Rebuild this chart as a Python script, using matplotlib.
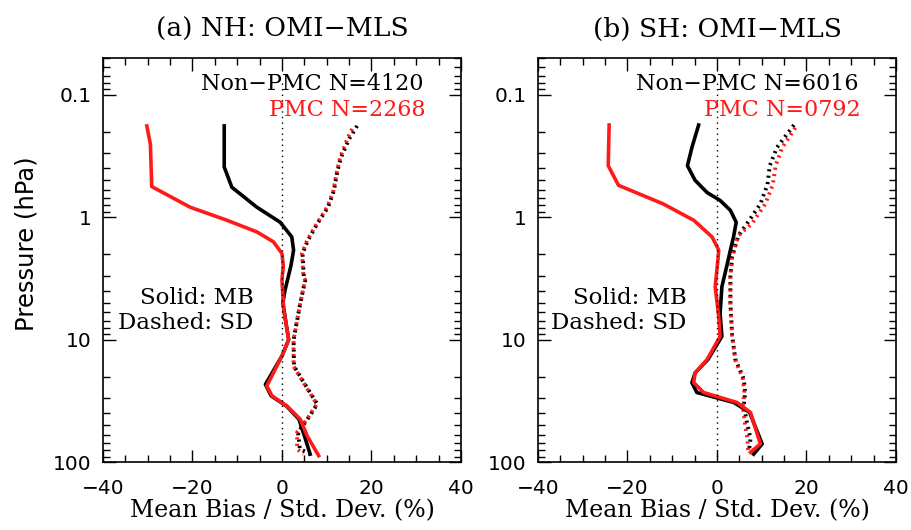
import numpy as np
import matplotlib
matplotlib.use('Agg')
import matplotlib.pyplot as plt
from matplotlib.ticker import FixedLocator, LogLocator, NullFormatter, MultipleLocator

# Livelli di pressione (hPa) e valori
# (a) NH
nh_mb_pmc_p = [0.18, 0.254, 0.563, 0.83, 1.06, 1.32, 1.59, 1.98, 2.5, 3.26, 5.7, 10.0, 13.6, 23.9, 28.8, 34.8, 44.6, 60.7, 88.5]
nh_mb_pmc_x = [-30.2, -29.4, -29.1, -20.5, -12.3, -5.6, -1.9, 0.0, 0.3, 0.0, 0.4, 1.5, 0.0, -3.4, -2.2, 1.1, 4.1, 5.6, 8.2]

nh_mb_non_p = [0.18, 0.39, 0.57, 0.83, 1.1, 1.45, 1.86, 2.5, 3.93, 5.0, 10.0, 13.6, 23.2, 28.8, 34.8, 44.6, 60.7, 86.0]
nh_mb_non_x = [-12.9, -12.9, -11.2, -5.6, -0.4, 2.2, 2.6, 2.0, 0.7, 0.2, 1.5, 0.0, -3.7, -2.4, 1.0, 3.8, 5.0, 6.3]

nh_sd_pmc_p = [0.18, 0.23, 0.326, 0.42, 0.61, 0.83, 1.13, 1.55, 1.98, 3.06, 3.26, 5.04, 10.0, 16.5, 22.4, 33.6, 44.6, 57.0, 78.0, 86.0]
nh_sd_pmc_x = [16.0, 14.6, 13.0, 12.3, 11.5, 10.1, 7.8, 5.6, 4.5, 4.8, 5.2, 4.1, 2.6, 2.6, 4.8, 7.8, 5.6, 3.4, 3.4, 4.8]

nh_sd_non_p = [0.18, 0.23, 0.326, 0.42, 0.61, 0.83, 1.13, 1.55, 1.98, 3.06, 3.26, 5.04, 10.0, 16.5, 22.4, 33.6, 44.6, 57.0, 78.0, 86.0]
nh_sd_non_x = [16.8, 15.0, 13.2, 12.4, 11.6, 10.3, 7.9, 5.8, 4.6, 4.9, 5.2, 4.1, 2.6, 2.7, 4.9, 7.9, 5.7, 3.6, 4.0, 6.3]

# (b) SH
sh_mb_pmc_p = [0.177, 0.38, 0.55, 0.78, 1.06, 1.45, 1.86, 2.25, 3.7, 6.5, 9.4, 14.5, 18.7, 22.4, 27.0, 32.6, 39.3, 71.0, 83.0]
sh_mb_pmc_x = [-24.1, -24.3, -22.0, -12.0, -5.2, -1.1, 0.4, 0.2, -0.4, 0.4, 0.7, -2.2, -4.9, -5.2, -3.0, 4.5, 7.5, 9.7, 7.5]

sh_mb_non_p = [0.177, 0.27, 0.38, 0.50, 0.63, 0.73, 0.88, 1.1, 1.45, 1.86, 2.5, 3.7, 6.1, 9.4, 14.5, 18.7, 22.4, 27.0, 32.6, 39.3, 71.0, 86.0]
sh_mb_non_x = [-4.1, -5.6, -6.6, -4.9, -2.2, 0.7, 3.0, 4.3, 3.7, 3.0, 2.2, 1.1, 0.7, 1.1, -2.0, -4.9, -5.6, -4.5, 3.8, 7.3, 10.1, 8.2]

sh_sd_pmc_p = [0.177, 0.27, 0.38, 0.54, 0.78, 1.13, 1.41, 2.1, 3.06, 5.0, 9.4, 14.5, 21.0, 27.0, 34.8, 47.4, 64.6, 83.0]
sh_sd_pmc_x = [17.9, 14.6, 13.1, 12.5, 10.8, 7.8, 4.8, 3.4, 3.0, 3.0, 3.4, 4.1, 5.8, 6.1, 5.8, 6.2, 6.8, 7.0]

sh_sd_non_p = [0.177, 0.27, 0.38, 0.54, 0.78, 1.13, 1.41, 2.1, 3.06, 5.0, 9.4, 14.5, 21.0, 27.0, 34.8, 47.4, 64.6, 83.0]
sh_sd_non_x = [17.2, 13.4, 11.8, 11.3, 9.7, 6.7, 4.8, 3.4, 3.0, 3.0, 3.4, 4.1, 6.0, 6.3, 6.0, 6.7, 7.5, 7.1]

panels = [
    dict(title='(a) NH: OMI\u2212MLS', n_non='Non\u2212PMC N=4120', n_pmc='PMC N=2268',
         mb_pmc=(nh_mb_pmc_x, nh_mb_pmc_p), mb_non=(nh_mb_non_x, nh_mb_non_p),
         sd_pmc=(nh_sd_pmc_x, nh_sd_pmc_p), sd_non=(nh_sd_non_x, nh_sd_non_p)),
    dict(title='(b) SH: OMI\u2212MLS', n_non='Non\u2212PMC N=6016', n_pmc='PMC N=0792',
         mb_pmc=(sh_mb_pmc_x, sh_mb_pmc_p), mb_non=(sh_mb_non_x, sh_mb_non_p),
         sd_pmc=(sh_sd_pmc_x, sh_sd_pmc_p), sd_non=(sh_sd_non_x, sh_sd_non_p)),
]

SERIF = ['DejaVu Serif']
RED = '#ff1a1a'

fig = plt.figure(figsize=(9.12, 5.30), dpi=100)
axes = [fig.add_axes([0.1129, 0.128, 0.3925, 0.763]),
        fig.add_axes([0.5899, 0.128, 0.3925, 0.763])]

for i, (ax, pn) in enumerate(zip(axes, panels)):
    # Curve: prima le nere, poi le rosse sopra
    ax.plot(*pn['sd_non'], color='black', lw=2.8, ls=(0, (0.55, 1.1)))
    ax.plot(*pn['sd_pmc'], color=RED, lw=2.8, ls=(0.8, (0.55, 1.1)))
    ax.plot(*pn['mb_non'], color='black', lw=2.6)
    ax.plot(*pn['mb_pmc'], color=RED, lw=2.6)
    ax.plot([0, 0], [0.08, 100], color='black', lw=1.0, ls=(0, (1, 3)))

    ax.set_yscale('log')
    ax.set_ylim(100, 0.05)
    ax.set_xlim(-40, 40)
    ax.yaxis.set_major_locator(FixedLocator([0.1, 1, 10, 100]))
    ax.set_yticklabels(['0.1', '1', '10', '100'])
    ax.yaxis.set_minor_locator(LogLocator(base=10, subs=np.arange(2, 10)))
    ax.yaxis.set_minor_formatter(NullFormatter())
    ax.xaxis.set_major_locator(MultipleLocator(20))
    ax.xaxis.set_minor_locator(MultipleLocator(5))
    ax.tick_params(which='both', direction='in', top=True, right=True, labelsize=14.5, width=1.0)
    ax.tick_params(which='major', length=9)
    ax.tick_params(axis='x', which='major', pad=12)
    ax.tick_params(axis='y', which='major', pad=8)
    ax.tick_params(which='minor', length=5)
    for sp in ax.spines.values():
        sp.set_linewidth(1.2)

    ax.set_title(pn['title'], family=SERIF, fontsize=19, pad=15)
    ax.set_xlabel('Mean Bias / Std. Dev. (%)', family=SERIF, fontsize=17, labelpad=1)

    ax.text(0.895, 0.935, pn['n_non'], transform=ax.transAxes, ha='right', va='center',
            family=SERIF, fontsize=16, color='black')
    ax.text(0.9, 0.87, pn['n_pmc'], transform=ax.transAxes, ha='right', va='center',
            family=SERIF, fontsize=16, color=RED)
    ax.text(0.42 if i == 0 else 0.415, 0.405, 'Solid: MB', transform=ax.transAxes, ha='right',
            va='center', family=SERIF, fontsize=16.5)
    ax.text(0.42 if i == 0 else 0.415, 0.345, 'Dashed: SD', transform=ax.transAxes, ha='right',
            va='center', family=SERIF, fontsize=16.5)

axes[0].set_ylabel('Pressure (hPa)', fontsize=17.5)
axes[0].yaxis.set_label_coords(-0.18, 0.54)

fig.savefig('out.png', dpi=100)
